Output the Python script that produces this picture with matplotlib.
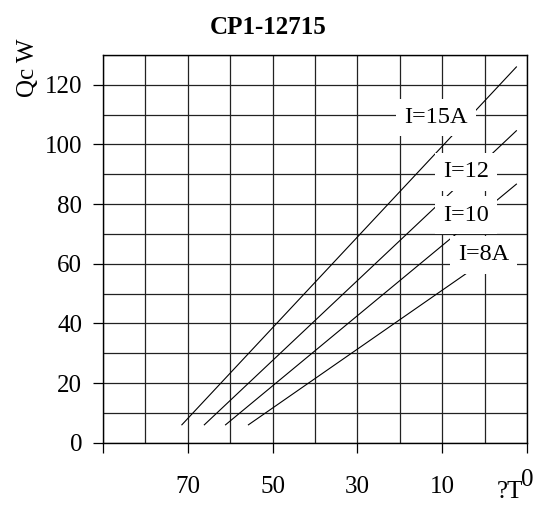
import numpy as np
import matplotlib.pyplot as plt

plt.rcParams['font.family'] = ['Liberation Serif', 'DejaVu Serif']

# 数据: 每条电流曲线的两个端点 (ΔT, Qc)
currents = ['I=15A', 'I=12', 'I=10', 'I=8A']
dt_start = [71.4, 66.1, 61.1, 55.7]
qc_start = [6, 6, 6, 6]
dt_end = [-7.5, -7.5, -7.5, 0]
qc_end = [126, 104.6, 86.7, 61]
label_pos = [(11.5, 109), (4.4, 90.8), (4.4, 76.3), (0.3, 63)]
x_ticks = [90, 70, 50, 30, 10, -10]
x_ticklabels = ['', '70', '50', '30', '10', '']
y_ticks = [0, 20, 40, 60, 80, 100, 120]

fig = plt.figure(figsize=(5.37, 5.12), dpi=100)
ax = fig.add_axes([103/537, 1-442.7/512, 424/537, (442.7-55)/512])

for i in range(len(currents)):
    ax.plot([dt_start[i], dt_end[i]], [qc_start[i], qc_end[i]], '-', color='k', lw=0.8, zorder=3)
    ax.text(label_pos[i][0], label_pos[i][1], currents[i], fontsize=17.5, ha='center', va='center',
            zorder=4, bbox=dict(facecolor='white', edgecolor='none', pad=6))

# 网格
for gx in np.arange(-10, 91, 10):
    ax.axvline(gx, color='#222222', lw=0.9, zorder=1)
for gy in np.arange(0, 131, 10):
    ax.axhline(gy, color='#222222', lw=0.9, zorder=1)

ax.set_xlim(90, -10)
ax.set_ylim(0, 130)
ax.set_xticks(x_ticks)
ax.set_xticklabels(x_ticklabels)
ax.set_yticks(y_ticks)
ax.tick_params(axis='both', direction='out', length=7, width=0.9, labelsize=18)
ax.tick_params(axis='x', pad=17)
ax.tick_params(axis='y', pad=8)
for s in ax.spines.values():
    s.set_linewidth(1.0)

fig.text(0.5, 1-28/512, 'CP1-12715', fontsize=18, fontweight='bold', ha='center', va='center')
fig.text(28/537, 1-68/512, 'Qc W', fontsize=18, rotation=90, ha='center', va='center')
fig.text(510/537, 1-492/512, '?T', fontsize=18, ha='center', va='center')
fig.text(527/537, 1-480/512, '0', fontsize=18, ha='center', va='center')

plt.savefig('out.png', dpi=100)
